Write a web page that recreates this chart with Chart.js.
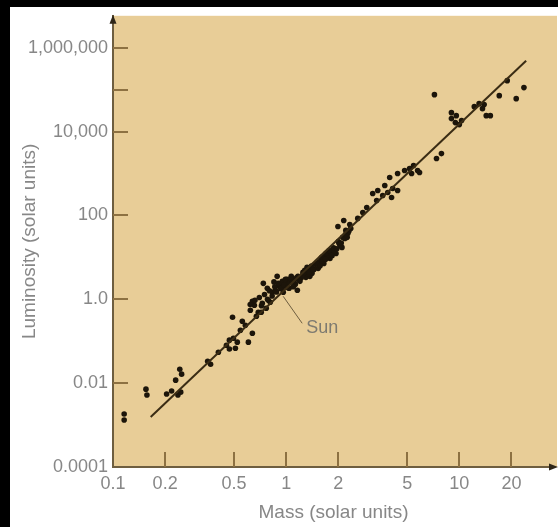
<!DOCTYPE html>
<html>
<head>
<meta charset="utf-8">
<script src="https://cdn.jsdelivr.net/npm/chart.js@4"></script>
<style>
html, body { margin: 0; padding: 0; background: #000; }
canvas { display: block; }
</style>
</head>
<body>
<canvas id="myChart" width="558" height="527"></canvas>
<script>
// stars (mass, luminosity in solar units)
var starMass = [0.116, 0.116, 0.155, 0.157, 0.204, 0.218, 0.237, 0.246, 0.230, 0.243, 0.249, 0.352, 0.366,
    0.452, 0.470, 0.496, 0.522, 0.509, 0.470, 0.490, 0.605, 0.638, 0.558, 0.581, 0.406, 0.544,
    0.621, 0.655, 0.690, 0.728, 0.767, 0.789, 0.638, 0.738, 0.778, 0.832, 0.887, 0.924, 1.01, 1.07,
    0.673, 0.718, 0.809,
    0.865, 0.912, 0.962, 1.00, 1.04, 1.08, 1.13, 1.17, 1.20, 1.25, 1.30, 1.36, 1.41, 1.47, 1.53, 1.59,
    1.65, 1.72, 1.79, 1.86, 1.94, 2.02, 2.10, 2.18, 2.27, 2.36, 1.16, 1.37, 1.67,
    0.85, 0.95, 1.05, 1.12, 1.22, 1.28, 1.33, 1.45, 1.55, 1.62, 1.75, 1.82, 1.90, 2.05, 2.25, 0.95, 1.10,
    0.62, 0.66, 0.70, 0.72, 0.75, 0.78, 0.80, 0.83, 0.86, 0.88, 0.90, 0.93, 0.97, 0.99, 1.02, 1.06, 1.09,
    1.15, 1.18, 1.24, 1.27, 1.32, 1.35, 1.40, 1.43, 1.50, 1.57, 1.61, 1.69, 1.70, 1.77, 1.84, 1.88, 1.96,
    2.00, 2.08, 2.12, 2.20, 2.30,
    1.99, 2.15, 2.33, 2.21, 2.59, 2.77, 2.92,
    3.16, 3.33, 3.38, 3.61, 3.86, 3.96, 4.12, 4.40, 4.40, 4.06, 3.71,
    4.83, 5.16, 5.44, 5.74, 5.30, 5.89, 7.38, 7.88, 7.18,
    9.0, 9.0, 9.48, 10.0, 10.3, 9.6, 12.2, 13.0, 13.9, 13.6, 14.3, 15.1,
    17.0, 18.9, 21.3, 23.6];
var starLum = [0.00183, 0.00132, 0.0072, 0.0052, 0.0055, 0.0065, 0.0052, 0.0061, 0.0118, 0.0215, 0.0164, 0.0334, 0.0283,
    0.080, 0.106, 0.118, 0.095, 0.068, 0.065, 0.373, 0.095, 0.155, 0.30, 0.24, 0.0547, 0.183,
    0.547, 0.72, 0.49, 0.80, 0.61, 0.95, 0.90, 2.40, 1.83, 1.47, 3.53, 2.28, 2.99, 3.53,
    0.394, 0.49, 0.85,
    1.64, 2.04, 1.47, 2.28, 1.83, 2.83, 2.28, 3.53, 2.68, 4.40, 3.34, 5.47, 4.16, 6.81, 5.47, 9.46,
    7.19, 11.8, 9.46, 15.5, 12.4, 21.5, 17.3, 28.3, 37.3, 49.0, 1.64, 3.53, 11.2,
    2.6, 2.7, 2.5, 3.0, 3.2, 4.9, 4.0, 5.2, 7.8, 8.0, 10.5, 13.0, 14.0, 19.0, 30.0, 1.9, 2.0,
    0.75, 0.95, 1.1, 0.7, 1.3, 1.0, 1.6, 1.2, 2.0, 1.5, 2.4, 1.8, 2.2, 3.0, 1.9, 3.1, 2.6,
    3.3, 2.9, 3.7, 4.3, 5.8, 4.5, 6.2, 5.0, 7.2, 6.3, 10.2, 9.0, 12.5, 14.5, 11.0, 17.0, 16.0,
    24.0, 22.0, 30.0, 35.0, 42.0,
    54.7, 76, 61, 44, 85, 118, 155,
    334, 228, 394, 299, 353, 803, 440, 394, 1000, 268, 518,
    1180, 1315, 1550, 1180, 1000, 1057, 2275, 2990, 76000,
    28300, 20400, 16400, 14700, 18300, 24000, 39400, 46400, 44000, 35300, 24000, 24000,
    72000, 164000, 61000, 112000];
// the Sun, where the label points
var sunMass = 1;
var sunLum = 1;
// ends of the drawn mass-luminosity line
var fitMass = [0.165, 24.3];
var fitLum = [0.00155, 490000];

var xTicks = [0.1, 0.2, 0.5, 1, 2, 5, 10, 20];
var xLabels = ['0.1', '0.2', '0.5', '1', '2', '5', '10', '20'];
var yTicks = [0.0001, 0.01, 1, 100, 10000, 100000, 1000000];
var yLabels = ['0.0001', '0.01', '1.0', '100', '10,000', '', '1,000,000'];

var font = '"Liberation Sans", Arial, Helvetica, sans-serif';
var grey = '#878787';

var stars = starMass.map(function(m, i) { return {x: m, y: starLum[i]}; });
var fit = fitMass.map(function(m, i) { return {x: m, y: fitLum[i]}; });

var decor = {
    id: 'decor',
    beforeDraw: function(chart) {
        var c = chart.ctx, a = chart.chartArea;
        c.save();
        c.fillStyle = '#000';
        c.fillRect(0, 0, chart.width, chart.height);
        c.fillStyle = '#fff';
        c.fillRect(10, 7, chart.width - 10, chart.height - 7);
        c.fillStyle = '#e8cd97';
        c.fillRect(a.left, a.top, chart.width - a.left - 1, a.bottom - a.top);
        c.restore();
    },
    afterDraw: function(chart) {
        var c = chart.ctx, a = chart.chartArea;
        var xs = chart.scales.x, ys = chart.scales.y;
        c.save();
        // tick marks point into the plot
        c.strokeStyle = '#8d7142';
        c.lineWidth = 2;
        yTicks.slice(1).forEach(function(v) {
            var p = Math.round(ys.getPixelForValue(v));
            c.beginPath(); c.moveTo(a.left, p); c.lineTo(a.left + 15, p); c.stroke();
        });
        xTicks.slice(1).forEach(function(v) {
            var p = Math.round(xs.getPixelForValue(v));
            c.beginPath(); c.moveTo(p, a.bottom); c.lineTo(p, a.bottom - 15); c.stroke();
        });
        // arrow heads
        c.fillStyle = '#2e2618';
        c.beginPath();
        c.moveTo(a.left, a.top - 1); c.lineTo(a.left - 3.5, a.top + 8); c.lineTo(a.left + 3.5, a.top + 8);
        c.fill();
        c.beginPath();
        c.moveTo(chart.width, a.bottom); c.lineTo(chart.width - 9, a.bottom - 3.5); c.lineTo(chart.width - 9, a.bottom + 3.5);
        c.fill();
        // Sun label
        var sx = xs.getPixelForValue(sunMass), sy = ys.getPixelForValue(sunLum);
        c.strokeStyle = '#6e5e40';
        c.lineWidth = 1;
        c.beginPath(); c.moveTo(sx - 3, sy - 3); c.lineTo(sx + 16, sy + 24); c.stroke();
        c.fillStyle = '#7d7a70';
        c.font = '18px ' + font;
        c.textBaseline = 'middle';
        c.fillText('Sun', sx + 20, sy + 29);
        c.restore();
    }
};

var ctx = document.getElementById('myChart').getContext('2d');
var myChart = new Chart(ctx, {
    type: 'scatter',
    data: {
        datasets: [{
            label: 'fit',
            data: fit,
            showLine: true,
            borderColor: '#3a2c14',
            borderWidth: 2,
            pointRadius: 0
        }, {
            label: 'stars',
            data: stars,
            backgroundColor: '#1c150a',
            borderWidth: 0,
            pointRadius: 2.8
        }]
    },
    options: {
        responsive: false,
        animation: false,
        events: [],
        layout: { padding: { left: 10, top: 15, right: 2, bottom: 0 } },
        plugins: { legend: { display: false }, tooltip: { enabled: false } },
        scales: {
            x: {
                type: 'logarithmic',
                min: 0.1,
                max: 35.2,
                afterFit: function(s) { s.height = 60; },
                afterBuildTicks: function(s) { s.ticks = xTicks.map(function(v) { return {value: v}; }); },
                grid: { display: false, drawTicks: false },
                border: { display: true, color: '#6e5e40', width: 2 },
                ticks: {
                    autoSkip: false, maxRotation: 0, padding: 6, color: grey,
                    font: { family: font, size: 18 },
                    callback: function(v, i) { return xLabels[i]; }
                },
                title: { display: true, text: 'Mass (solar units)', color: grey,
                    font: { family: font, size: 19 }, padding: { top: 0, bottom: 3 } }
            },
            y: {
                type: 'logarithmic',
                min: 0.0001,
                max: 5780000,
                afterFit: function(s) { s.width = 103; },
                afterBuildTicks: function(s) { s.ticks = yTicks.map(function(v) { return {value: v}; }); },
                grid: { display: false, drawTicks: false },
                border: { display: true, color: '#6e5e40', width: 2 },
                ticks: {
                    autoSkip: false, padding: 5, color: grey,
                    font: { family: font, size: 18 },
                    callback: function(v, i) { return yLabels[i]; }
                },
                title: { display: true, text: 'Luminosity (solar units)', color: grey,
                    font: { family: font, size: 19 }, padding: { top: 8, bottom: 0 } }
            }
        }
    },
    plugins: [decor]
});
</script>
</body>
</html>
